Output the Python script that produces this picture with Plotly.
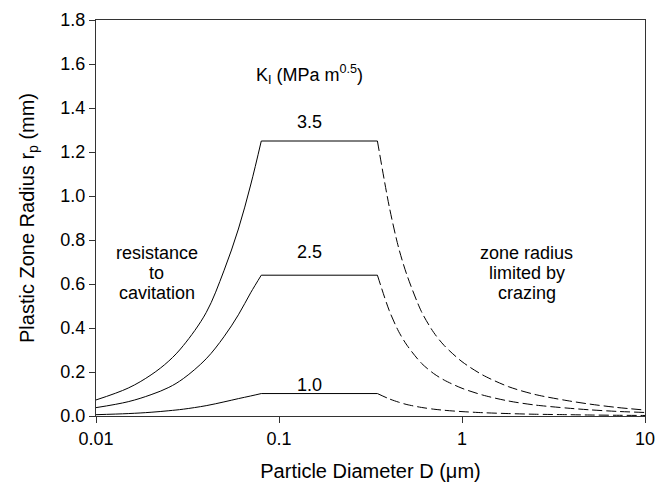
import plotly.graph_objects as go
import numpy as np

# Stress intensity factors (MPa m^0.5)
k_labels = ["3.5", "2.5", "1.0"]

# Rising part (resistance to cavitation), particle diameter in um
d_rise = [0.01, 0.015, 0.02, 0.025, 0.03, 0.04, 0.05, 0.06, 0.07, 0.08]
rp_rise_35 = [0.073, 0.127, 0.187, 0.25, 0.32, 0.47, 0.66, 0.85, 1.05, 1.25]
rp_rise_25 = [0.038, 0.065, 0.097, 0.13, 0.17, 0.26, 0.36, 0.46, 0.56, 0.64]
rp_rise_10 = [0.006, 0.011, 0.017, 0.024, 0.031, 0.047, 0.064, 0.079, 0.091, 0.102]

# Plateau
d_plateau = [0.08, 0.345]
rp_plateau = [1.25, 0.64, 0.102]

# Decaying part (zone radius limited by crazing)
d_fall = [0.345, 0.4, 0.45, 0.5, 0.6, 0.7, 0.8, 1.0, 1.3, 1.8, 2.5, 3.75, 5, 7, 10]
rp_fall_35 = [1.25, 0.953, 0.766, 0.641, 0.475, 0.38, 0.32, 0.247, 0.186, 0.133, 0.098, 0.07, 0.054, 0.039, 0.027]
rp_fall_25 = [0.64, 0.48, 0.385, 0.322, 0.24, 0.193, 0.163, 0.126, 0.095, 0.068, 0.05, 0.036, 0.028, 0.021, 0.016]
rp_fall_10 = [0.102, 0.078, 0.063, 0.052, 0.039, 0.031, 0.026, 0.02, 0.015, 0.011, 0.008, 0.006, 0.0045, 0.0033, 0.0024]

y_ticks = [0.0, 0.2, 0.4, 0.6, 0.8, 1.0, 1.2, 1.4, 1.6, 1.8]
x_ticks = [0.01, 0.1, 1, 10]
x_tick_text = ["0.01", "0.1", "1", "10"]

FONT = "Liberation Sans, Arial, sans-serif"
fig = go.Figure()

rises = [rp_rise_35, rp_rise_25, rp_rise_10]
falls = [rp_fall_35, rp_fall_25, rp_fall_10]
for i, lab in enumerate(k_labels):
    fig.add_trace(go.Scatter(x=d_rise, y=rises[i], mode="lines",
                             line=dict(color="black", width=1, shape="spline", smoothing=1.0),
                             showlegend=False, hoverinfo="skip"))
    fig.add_trace(go.Scatter(x=d_plateau, y=[rp_plateau[i]] * 2, mode="lines",
                             line=dict(color="black", width=1),
                             showlegend=False, hoverinfo="skip"))
    fig.add_trace(go.Scatter(x=d_fall, y=falls[i], mode="lines",
                             line=dict(color="black", width=1, dash="10px,4px", shape="spline", smoothing=0.8),
                             showlegend=False, hoverinfo="skip"))

lx = np.log10(0.1476)
left_x = np.log10(0.0215)
right_x = np.log10(2.265)
annots = [
    dict(x=lx, y=1.554, text="K<sub>I</sub> (MPa m<sup>0.5</sup>)"),
    dict(x=lx, y=1.335, text="3.5"),
    dict(x=lx, y=0.745, text="2.5"),
    dict(x=lx, y=0.14, text="1.0"),
    dict(x=left_x, y=0.74, text="resistance"),
    dict(x=left_x, y=0.65, text="to"),
    dict(x=left_x, y=0.56, text="cavitation"),
    dict(x=right_x, y=0.74, text="zone radius"),
    dict(x=right_x, y=0.65, text="limited by"),
    dict(x=right_x, y=0.56, text="crazing"),
]
for a in annots:
    fig.add_annotation(x=a["x"], y=a["y"], text=a["text"], xref="x", yref="y",
                       showarrow=False, font=dict(family=FONT, size=18, color="black"),
                       xanchor="center", yanchor="middle")

fig.update_layout(
    width=669, height=488,
    margin=dict(l=96, r=24, t=20, b=72),
    paper_bgcolor="white", plot_bgcolor="white",
    font=dict(family=FONT, size=18, color="black"),
)
fig.update_xaxes(type="log", range=[-2, 1], tickvals=x_ticks, ticktext=x_tick_text,
                 ticks="outside", ticklen=6, tickcolor="#333", showline=True, linecolor="#333",
                 linewidth=1, mirror=True, showgrid=False, zeroline=False, automargin=False,
                 title=dict(text="Particle Diameter D (μm)", font=dict(size=20), standoff=16))
fig.update_yaxes(range=[0, 1.8], tickvals=y_ticks, tickformat=".1f",
                 ticks="outside", ticklen=6, tickcolor="#333", showline=True, linecolor="#333",
                 linewidth=1, mirror=True, showgrid=False, zeroline=False, automargin=False,
                 title=dict(text="Plastic Zone Radius r<sub>p</sub> (mm)", font=dict(size=20), standoff=20))

fig.write_html("out.html", config={"displayModeBar": False},
               post_script="document.body.style.margin='0';document.body.style.padding='0';")
